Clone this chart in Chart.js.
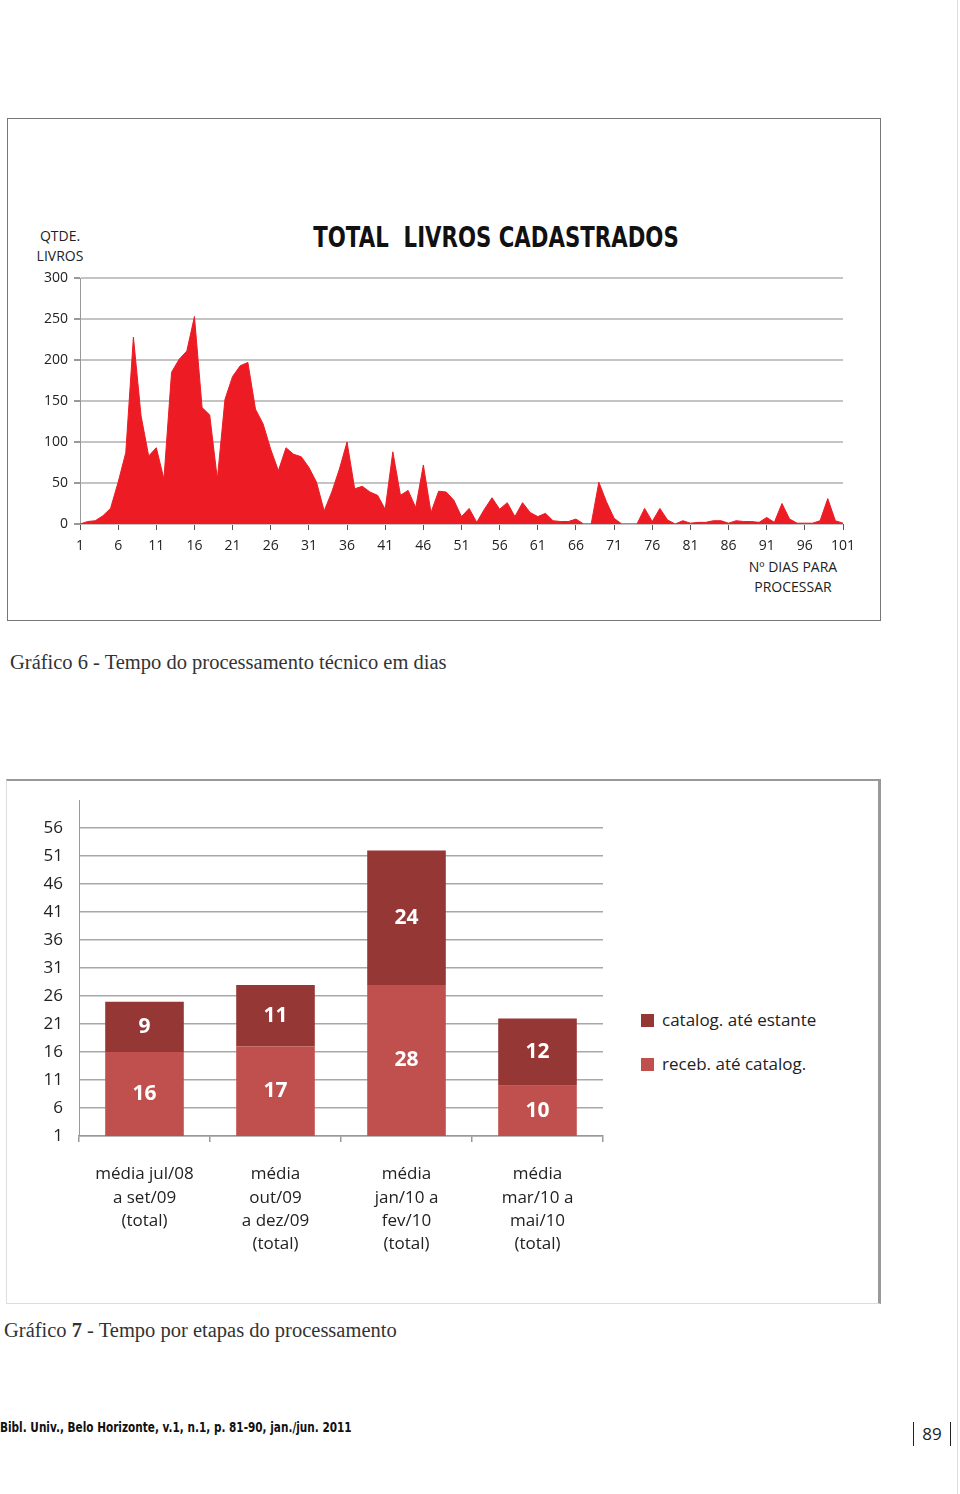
<!DOCTYPE html>
<html lang="pt">
<head>
<meta charset="UTF-8">
<title>Gráficos 6 e 7</title>
<style>
  html, body { margin: 0; padding: 0; background: #fff; }
  body { width: 960px; height: 1494px; position: relative; overflow: hidden; font-family: "Open Sans", sans-serif; color: #222; }
  .caixa1 { position: absolute; left: 7px; top: 118px; width: 872px; height: 501px; border: 1px solid #777; }
  .caixa2 { position: absolute; left: 6px; top: 779px; width: 871px; height: 522px; border: 1px solid #ddd; border-top: 2px solid #999; border-right: 3px solid #999; }
  .borda-pagina { position: absolute; left: 957px; top: 0; width: 1px; height: 1494px; background: #ddd; }
  .txt { position: absolute; white-space: nowrap; }
  .titulo { left: 246px; top: 221px; width: 500px; text-align: center; font-family: "DejaVu Sans", sans-serif; font-weight: bold; font-size: 28px; color: #111; transform: scaleX(0.76); transform-origin: 250px 0; }
  .eixo { font-size: 14px; line-height: 20px; text-align: center; color: #222; }
  .legenda { font-family: "Liberation Serif", serif; font-size: 20.5px; color: #333; }
  .leg-item { position: absolute; left: 641px; font-size: 17px; color: #222; white-space: nowrap; }
  .leg-item span { display: inline-block; width: 13px; height: 13px; margin-right: 8px; vertical-align: -1px; }
  .rodape { left: 0; top: 1419px; font-family: "DejaVu Sans", sans-serif; font-weight: bold; font-size: 14px; color: #111; transform: scaleX(0.75); transform-origin: 0 0; }
  .pagina { left: 913px; top: 1422px; height: 24px; width: 36px; border-left: 1px solid #222; border-right: 1px solid #222; text-align: center; font-size: 17px; line-height: 24px; color: #222; }
  #graficoArea { position: absolute; left: 0; top: 260px; }
  #graficoBarras { position: absolute; left: 0; top: 774px; }
</style>
</head>
<body>
<div class="borda-pagina"></div>
<div class="caixa1"></div>
<div class="txt titulo">TOTAL&nbsp; LIVROS CADASTRADOS</div>
<div class="txt eixo" style="left:20px; top:226px; width:80px;">QTDE.<br>LIVROS</div>
<div class="txt eixo" style="left:733px; top:557px; width:120px;">Nº DIAS PARA<br>PROCESSAR</div>
<canvas id="graficoArea" width="880" height="300"></canvas>
<div class="txt legenda" style="left:10px; top:651px;">Gráfico 6 - Tempo do processamento técnico em dias</div>

<div class="caixa2"></div>
<canvas id="graficoBarras" width="640" height="496"></canvas>
<div id="legendaBarras"></div>
<div class="txt legenda" style="left:4px; top:1319px;">Gráfico <b>7</b> - Tempo por etapas do processamento</div>

<div class="txt rodape">Bibl. Univ., Belo Horizonte, v.1, n.1, p. 81-90, jan./jun. 2011</div>
<div class="txt pagina">89</div>

<script src="https://cdn.jsdelivr.net/npm/chart.js"></script>
<script>
// grafico 6 - livros cadastrados por numero de dias
var dias = [1,2,3,4,5,6,7,8,9,10,11,12,13,14,15,16,17,18,19,20,
  21,22,23,24,25,26,27,28,29,30,31,32,33,34,35,36,37,38,39,40,
  41,42,43,44,45,46,47,48,49,50,51,52,53,54,55,56,57,58,59,60,
  61,62,63,64,65,66,67,68,69,70,71,72,73,74,75,76,77,78,79,80,
  81,82,83,84,85,86,87,88,89,90,91,92,93,94,95,96,97,98,99,100,101];
var qtde_livros = [0,3,4,10,19,51,87,228,132,83,93,55,185,201,211,253,142,133,55,152,
  180,193,197,140,122,91,65,93,85,82,69,51,16,39,67,100,43,46,39,35,
  18,88,35,41,20,72,14,40,39,29,9,19,2,18,32,18,26,9,26,14,
  9,13,4,3,3,6,0,0,51,27,7,0,0,0,19,3,19,5,0,4,
  1,2,2,4,4,1,4,3,3,2,8,2,25,6,1,1,1,4,31,4,1];
var ticks_livros = [0, 50, 100, 150, 200, 250, 300];

// grafico 7 - tempo por etapas
var periodos = [
  ['média jul/08', 'a set/09', '(total)'],
  ['média', 'out/09', 'a dez/09', '(total)'],
  ['média', 'jan/10 a', 'fev/10', '(total)'],
  ['média', 'mar/10 a', 'mai/10', '(total)']
];
var receb_catalog = [16, 17, 28, 10];
var catalog_estante = [9, 11, 24, 12];
var ticks_dias = [1, 6, 11, 16, 21, 26, 31, 36, 41, 46, 51, 56];

var cor_area = '#ed1c24';
var cor_receb = '#c0504d';
var cor_catalog = '#953735';

new Chart(document.getElementById('graficoArea'), {
  type: 'line',
  data: {
    labels: dias,
    datasets: [{
      label: 'TOTAL LIVROS CADASTRADOS',
      data: qtde_livros,
      fill: 'origin',
      backgroundColor: cor_area,
      borderColor: cor_area,
      borderWidth: 1,
      pointRadius: 0,
      tension: 0
    }]
  },
  options: {
    responsive: false,
    animation: false,
    layout: { padding: { top: 18, right: 37, left: 0, bottom: 0 } },
    plugins: { legend: { display: false }, tooltip: { enabled: false } },
    scales: {
      x: {
        offset: false,
        border: { display: false },
        grid: {
          drawOnChartArea: false,
          tickLength: 6,
          tickColor: function (c) { return c.index % 5 === 0 ? '#555' : 'rgba(0,0,0,0)'; }
        },
        ticks: {
          autoSkip: false,
          maxRotation: 0,
          padding: 8,
          color: '#222',
          font: { family: 'Open Sans', size: 14 },
          callback: function (v, i) { return i % 5 === 0 ? this.getLabelForValue(v) : ''; }
        },
        afterFit: function (s) { s.height = 36; }
      },
      y: {
        min: 0,
        max: 300,
        border: { color: '#999', width: 1 },
        grid: { color: '#c4c4c4', lineWidth: 2, tickLength: 6, tickColor: '#999' },
        ticks: {
          stepSize: 50,
          padding: 6,
          color: '#222',
          font: { family: 'Open Sans', size: 14 }
        },
        afterBuildTicks: function (s) { s.ticks = ticks_livros.map(function (v) { return { value: v }; }); },
        afterFit: function (s) { s.width = 80; }
      }
    }
  }
});

// rotulos brancos dentro das barras
const rotulosBarras = {
  id: 'rotulosBarras',
  afterDatasetsDraw(chart) {
    const ctx = chart.ctx;
    ctx.save();
    ctx.fillStyle = '#fff';
    ctx.font = 'bold 21px "Open Sans"';
    ctx.textAlign = 'center';
    ctx.textBaseline = 'middle';
    chart.data.datasets.forEach(function (ds, i) {
      chart.getDatasetMeta(i).data.forEach(function (bar, j) {
        const p = bar.getProps(['x', 'y', 'base'], true);
        const base = Math.min(p.base, chart.chartArea.bottom);
        ctx.fillText(ds.data[j], p.x, (p.y + base) / 2);
      });
    });
    ctx.restore();
  }
};

var series_barras = [
  { label: 'receb. até catalog.', data: receb_catalog, backgroundColor: cor_receb },
  { label: 'catalog. até estante', data: catalog_estante, backgroundColor: cor_catalog }
];

new Chart(document.getElementById('graficoBarras'), {
  type: 'bar',
  data: {
    labels: periodos,
    datasets: series_barras.map(function (s) {
      return { label: s.label, data: s.data, backgroundColor: s.backgroundColor, barPercentage: 0.6, categoryPercentage: 1 };
    })
  },
  options: {
    responsive: false,
    animation: false,
    layout: { padding: { top: 0, right: 37, left: 0, bottom: 0 } },
    plugins: { legend: { display: false }, tooltip: { enabled: false } },
    scales: {
      x: {
        stacked: true,
        border: { color: '#999', width: 1.5 },
        grid: { drawOnChartArea: false, tickLength: 6, tickColor: '#999', lineWidth: 1.5 },
        ticks: {
          padding: 21,
          maxRotation: 0,
          color: '#222',
          font: { family: 'Open Sans', size: 17, lineHeight: 1.36 }
        },
        afterFit: function (s) { s.height = 134; }
      },
      y: {
        stacked: true,
        min: 1,
        max: 61,
        border: { color: '#999', width: 1 },
        grid: { color: '#a8a8a8', lineWidth: 1.5, drawTicks: false },
        ticks: {
          stepSize: 5,
          padding: 16,
          color: '#222',
          font: { family: 'Open Sans', size: 17 }
        },
        afterBuildTicks: function (s) { s.ticks = ticks_dias.map(function (v) { return { value: v }; }); },
        afterFit: function (s) { s.width = 79; }
      }
    }
  },
  plugins: [rotulosBarras]
});

// legenda ao lado (ordem invertida, como na pilha)
var legenda = document.getElementById('legendaBarras');
var topos = [1008, 1052];
series_barras.slice().reverse().forEach(function (s, i) {
  var d = document.createElement('div');
  d.className = 'leg-item';
  d.style.top = topos[i] + 'px';
  d.innerHTML = '<span style="background:' + s.backgroundColor + '"></span>' + s.label;
  legenda.appendChild(d);
});
</script>
</body>
</html>
